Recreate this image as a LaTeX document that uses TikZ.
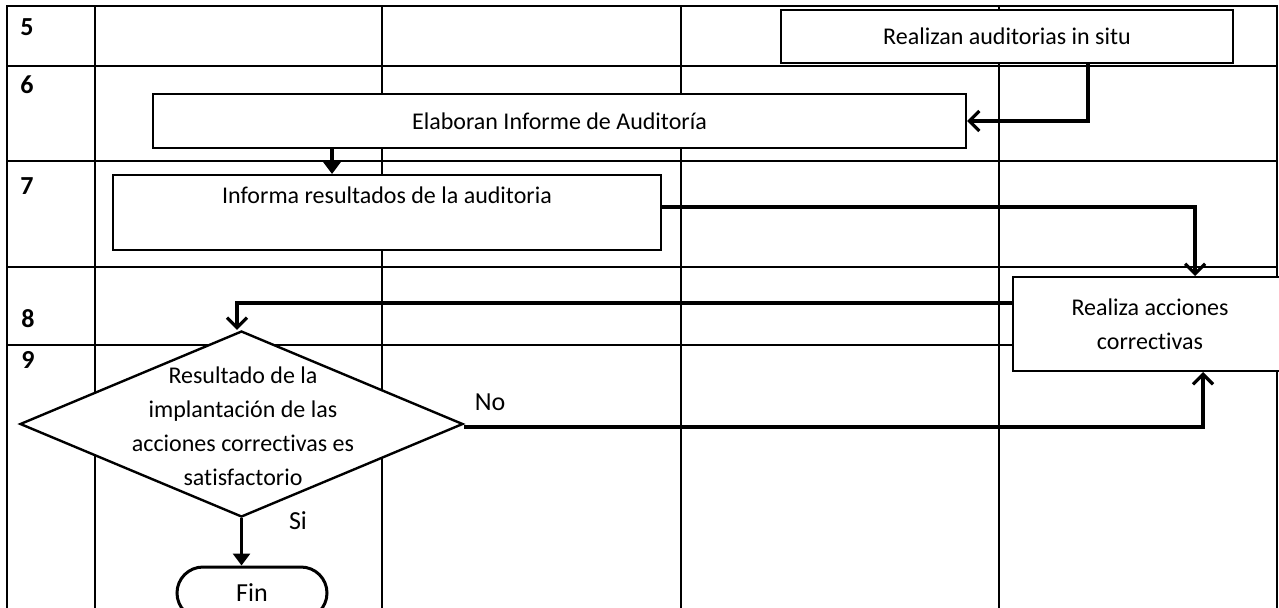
\documentclass[tikz,border=0pt]{standalone}
\usepackage{fontspec}
\setmainfont{Carlito}[Ligatures=NoCommon]
\usetikzlibrary{positioning,arrows.meta,shapes.geometric,shapes.misc}
\tikzset{
  gridline/.style={line width=1pt},
  stepnum/.style={font=\fontsize{13}{15}\selectfont\bfseries},
  biglabel/.style={font=\fontsize{13}{15}\selectfont},
  procbox/.style={rectangle,draw=black,fill=white,line width=1pt,inner sep=0pt,align=center},
  decbox/.style={diamond,draw=black,fill=white,line width=1.2pt,inner sep=0pt},
  endbox/.style={rounded rectangle,draw=black,fill=white,line width=1.5pt,inner sep=0pt},
  openarr/.style={line width=1.6pt,-{Straight Barb[length=5pt,width=10pt,line width=1.6pt]}},
  fullarr/.style={line width=1.6pt,-{Triangle[length=6pt,width=8.5pt]}}
}

\begin{document}
\begin{tikzpicture}[x=0.5pt,y=-0.5pt,
    every node/.style={font=\fontsize{12}{17}\selectfont}]
\useasboundingbox (0,0) rectangle (1279,607);

% table
\draw[gridline] (7,620) -- (7,6) -- (1277,6) -- (1277,620);
\foreach \ry in {66,161,267,345}
  \draw[gridline] (7,\ry) -- (1277,\ry);
\foreach \cx in {95,382,681,999}
  \draw[gridline] (\cx,6) -- (\cx,620);

\node[stepnum] (n5) at (27,27) {5};
\node[stepnum] (n6) at (27,85) {6};
\node[stepnum] (n7) at (27,186) {7};
\node[stepnum] (n8) at (28,319) {8};
\node[stepnum] (n9) at (28,360) {9};

% steps
\node[procbox,minimum width=226pt,minimum height=26.5pt]
  (realizan) at (1007,36.5) {Realizan auditorias in situ};
\node[procbox,minimum width=406.5pt,minimum height=27pt]
  (elaboran) at (559.5,121) {Elaboran Informe de Auditoría};
\node[procbox,minimum width=274pt,minimum height=37.5pt]
  (informa) at (387,212.5) {Informa resultados de la auditoria\\ \mbox{}};
\node[procbox,minimum width=137pt,minimum height=47pt]
  (realiza) at (1150,324) {Realiza acciones\\correctivas};
\node[decbox,minimum width=221.5pt,minimum height=93pt]
  (decision) at (241.5,424) {};
\node[align=center] (dectext) at (243,426)
  {Resultado de la\\implantación de las\\acciones correctivas es\\satisfactorio};
\node[endbox,biglabel,minimum width=75pt,minimum height=26pt]
  (fin) at (252,593) {Fin};

\node[biglabel] (no) at (490,402) {No};
\node[biglabel] (si) at (298,521) {Si};

% connectors
\draw[openarr] ([xshift=40.5pt]realizan.south) |- (elaboran.east);
\draw[fullarr] ([xshift=-113.75pt]elaboran.south) -- ([xshift=-27.5pt]informa.north);
\draw[openarr] ([yshift=2.75pt]informa.east) -| ([xshift=22.5pt]realiza.north);
\draw[openarr] ([yshift=10.5pt]realiza.west) -| ([xshift=-2.25pt]decision.north);
\draw[openarr] ([yshift=-1.5pt]decision.east) -| ([xshift=26.5pt]realiza.south);
\draw[fullarr] (decision.south) -- (decision.south |- fin.north);

\end{tikzpicture}
\end{document}
